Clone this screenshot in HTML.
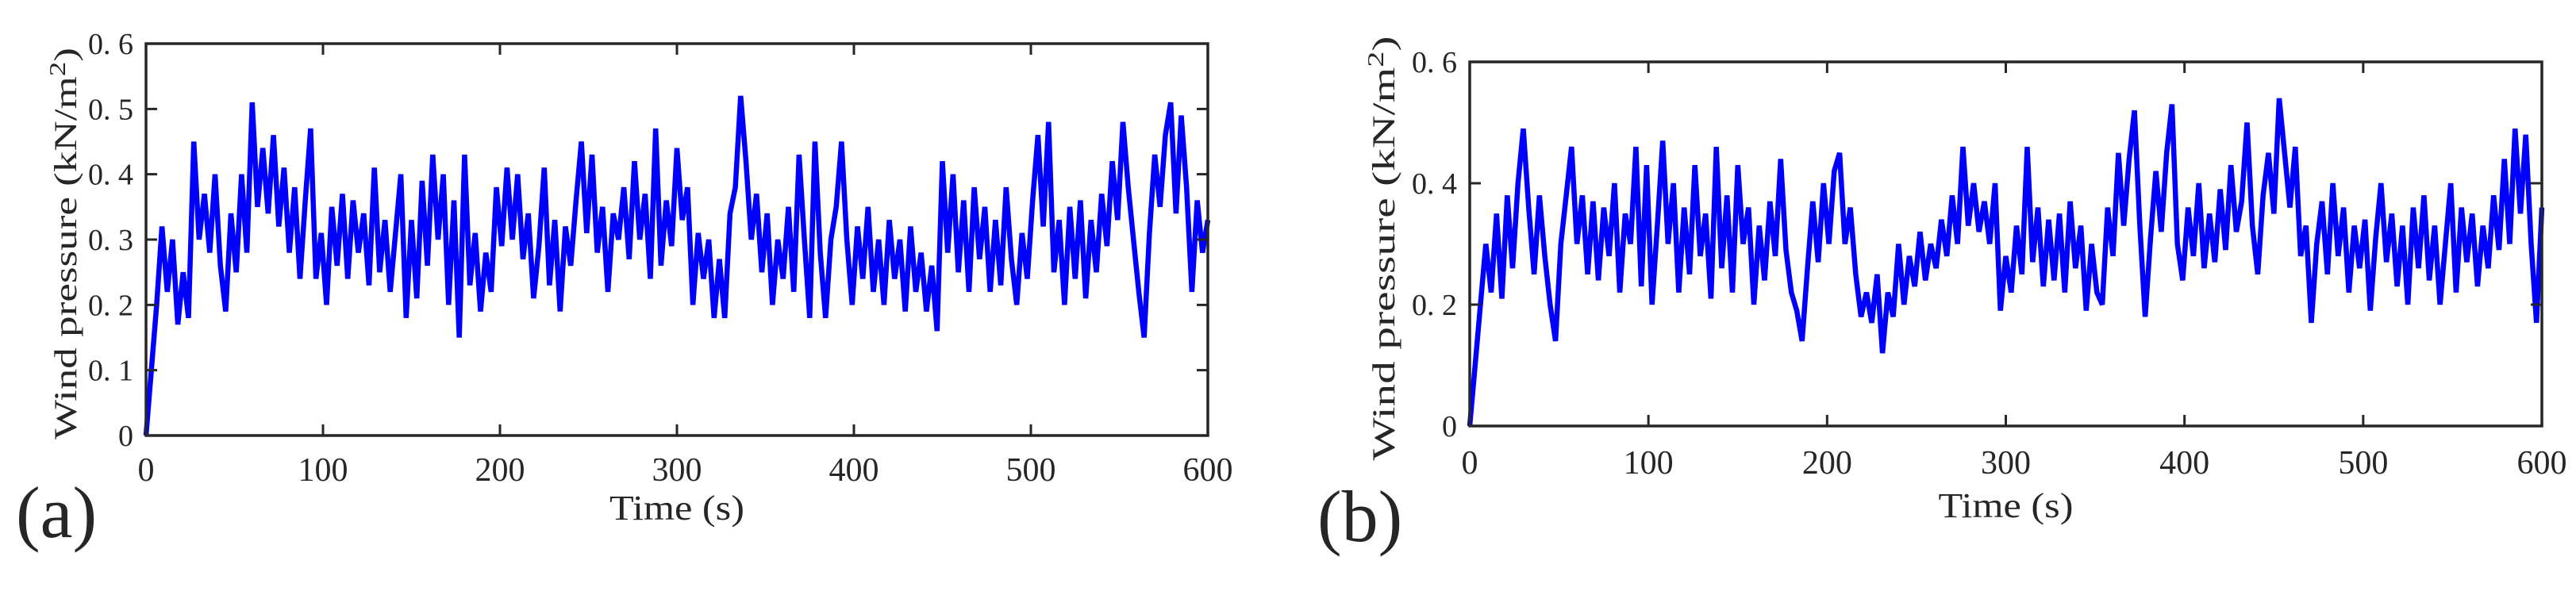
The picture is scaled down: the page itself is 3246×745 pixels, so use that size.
<!DOCTYPE html>
<html><head><meta charset="utf-8">
<style>
html,body{margin:0;padding:0;background:#fff;}
svg{display:block;}
text{font-family:"Liberation Serif",serif;fill:#262626;}
</style></head>
<body>
<svg id="fig" width="3246" height="745" viewBox="0 0 3246 745" xmlns="http://www.w3.org/2000/svg">
  <g id="panelA"></g>
  <g id="panelB"></g>
  <text x="20" y="677" font-size="92">(a)</text>
  <text x="1660" y="682" font-size="92">(b)</text>
</svg>
<script>
const timeStep = 3;
const pressureA = [
0,0.1,0.2,0.32,0.22,0.3,0.17,0.25,0.18,0.45,
0.3,0.37,0.28,0.4,0.26,0.19,0.34,0.25,0.4,0.28,
0.51,0.35,0.44,0.34,0.46,0.32,0.41,0.28,0.38,0.24,
0.36,0.47,0.24,0.31,0.2,0.35,0.26,0.37,0.24,0.36,
0.28,0.34,0.23,0.41,0.25,0.33,0.22,0.31,0.4,0.18,
0.33,0.21,0.39,0.26,0.43,0.3,0.4,0.2,0.36,0.15,
0.43,0.23,0.31,0.19,0.28,0.22,0.38,0.29,0.41,0.3,
0.4,0.27,0.34,0.21,0.29,0.41,0.23,0.33,0.19,0.32,
0.26,0.36,0.45,0.31,0.43,0.28,0.35,0.22,0.34,0.3,
0.38,0.27,0.42,0.3,0.37,0.24,0.47,0.26,0.36,0.29,
0.44,0.33,0.38,0.2,0.31,0.24,0.3,0.18,0.27,0.18,
0.34,0.38,0.52,0.42,0.3,0.37,0.25,0.34,0.2,0.3,
0.24,0.35,0.22,0.43,0.3,0.18,0.45,0.28,0.18,0.3,
0.35,0.45,0.3,0.2,0.32,0.24,0.35,0.22,0.3,0.2,
0.33,0.24,0.3,0.19,0.32,0.22,0.28,0.19,0.26,0.16,
0.42,0.28,0.4,0.25,0.36,0.22,0.38,0.27,0.35,0.22,
0.33,0.23,0.38,0.27,0.2,0.31,0.24,0.36,0.46,0.32,
0.48,0.25,0.33,0.2,0.35,0.24,0.36,0.21,0.33,0.25,
0.37,0.29,0.42,0.33,0.48,0.38,0.3,0.22,0.15,0.31,
0.43,0.35,0.46,0.51,0.34,0.49,0.38,0.22,0.36,0.28,
0.33];
const pressureB = [
0,0.1,0.2,0.3,0.22,0.35,0.21,0.38,0.26,0.4,
0.49,0.36,0.25,0.38,0.28,0.2,0.14,0.3,0.38,0.46,
0.3,0.38,0.25,0.37,0.24,0.36,0.28,0.4,0.22,0.35,
0.3,0.46,0.23,0.43,0.2,0.33,0.47,0.3,0.4,0.22,
0.36,0.25,0.43,0.28,0.35,0.21,0.46,0.26,0.38,0.22,
0.43,0.3,0.36,0.2,0.33,0.24,0.37,0.28,0.44,0.29,
0.22,0.19,0.14,0.26,0.37,0.27,0.4,0.3,0.42,0.45,
0.3,0.36,0.25,0.18,0.22,0.17,0.25,0.12,0.22,0.18,
0.3,0.2,0.28,0.23,0.32,0.24,0.3,0.26,0.34,0.28,
0.38,0.3,0.46,0.33,0.4,0.32,0.37,0.3,0.4,0.19,
0.28,0.22,0.33,0.25,0.46,0.27,0.36,0.23,0.34,0.24,
0.35,0.22,0.37,0.26,0.33,0.19,0.3,0.22,0.2,0.36,
0.28,0.45,0.33,0.44,0.52,0.33,0.18,0.31,0.42,0.32,
0.45,0.53,0.3,0.24,0.36,0.28,0.4,0.26,0.35,0.27,
0.39,0.29,0.43,0.32,0.37,0.5,0.33,0.25,0.38,0.45,
0.35,0.54,0.45,0.36,0.46,0.28,0.33,0.17,0.3,0.37,
0.25,0.4,0.28,0.36,0.22,0.33,0.26,0.34,0.19,0.31,
0.4,0.27,0.35,0.23,0.33,0.2,0.36,0.26,0.38,0.24,
0.33,0.2,0.3,0.4,0.22,0.36,0.27,0.35,0.23,0.33,
0.26,0.38,0.29,0.44,0.3,0.49,0.35,0.48,0.3,0.17,
0.36];
const xTicks = [0,100,200,300,400,500,600];
const yTicksA = [0,0.1,0.2,0.3,0.4,0.5,0.6];
const yTicksB = [0,0.2,0.4,0.6];

const NS = "http://www.w3.org/2000/svg";
function mk(parent, tag, attrs){
  const e = document.createElementNS(NS, tag);
  for (const k in attrs) e.setAttribute(k, attrs[k]);
  parent.appendChild(e);
  return e;
}
function drawPanel(g, values, yTicks, box, prefix){
  const sx = t => box.l + (t/600)*(box.r-box.l);
  const sy = v => box.b - (v/0.6)*(box.b-box.t);
  let d = "";
  values.forEach((v,i)=>{ d += (i?"L":"M") + sx(i*timeStep).toFixed(1) + " " + sy(v).toFixed(1); });
  const line = mk(g, "path", {d:d, fill:"none", stroke:"#0000ff", "stroke-width":"6.5", "stroke-linejoin":"miter", "stroke-miterlimit":"3"});
  
  
  const fr = mk(g, "rect", {x:box.l, y:box.t, width:box.r-box.l, height:box.b-box.t, fill:"none", stroke:"#262626", "stroke-width":"3.5"});
  
  
  xTicks.forEach(t=>{
    const x = sx(t);
    const tk = mk(g, "path", {d:`M${x} ${box.b}V${box.b-14}M${x} ${box.t}V${box.t+14}`, stroke:"#262626", "stroke-width":"3"});
    
    
    const lb = mk(g, "text", {x:x, y:box.xLabelY, "font-size":"42", "text-anchor":"middle"});
    lb.textContent = String(t);
    
    
  });
  yTicks.forEach(v=>{
    const y = sy(v);
    const tk = mk(g, "path", {d:`M${box.l} ${y}H${box.l+14}M${box.r} ${y}H${box.r-14}`, stroke:"#262626", "stroke-width":"3"});
    
    
    const lb = mk(g, "text", {x:box.l-16, y:y+13, "font-size":"38", "text-anchor":"end"});
    lb.textContent = v===0 ? "0" : v.toFixed(1).replace(".", ". ");
    
    
  });
  const xt = mk(g, "text", {x:(box.l+box.r)/2, y:box.xTitleY, "font-size":"44", "text-anchor":"middle", textLength:"170", lengthAdjust:"spacingAndGlyphs"});
  xt.textContent = "Time (s)";
  
  
  const yt = mk(g, "text", {transform:`translate(${box.yTitleX},${box.yTitleC}) rotate(-90)`, "font-size":"40", "text-anchor":"middle", textLength:String(box.yTitleLen), lengthAdjust:"spacingAndGlyphs"});
  
  
  const t1 = mk(yt, "tspan", {}); t1.textContent = "Wind pressure (kN/m";
  const t2 = mk(yt, "tspan", {dy:"-14", "font-size":"28"}); t2.textContent = "2";
  const t3 = mk(yt, "tspan", {dy:"14"}); t3.textContent = ")";
}
drawPanel(document.getElementById("panelA"), pressureA, yTicksA,
  {l:184,r:1522,t:55,b:549,xLabelY:606,xTitleY:655,yTitleX:96,yTitleC:307,yTitleLen:494}, "panel-a");
drawPanel(document.getElementById("panelB"), pressureB, yTicksB,
  {l:1852,r:3203,t:78,b:537,xLabelY:597,xTitleY:652,yTitleX:1757,yTitleC:313,yTitleLen:535}, "panel-b");
</script>
</body></html>
